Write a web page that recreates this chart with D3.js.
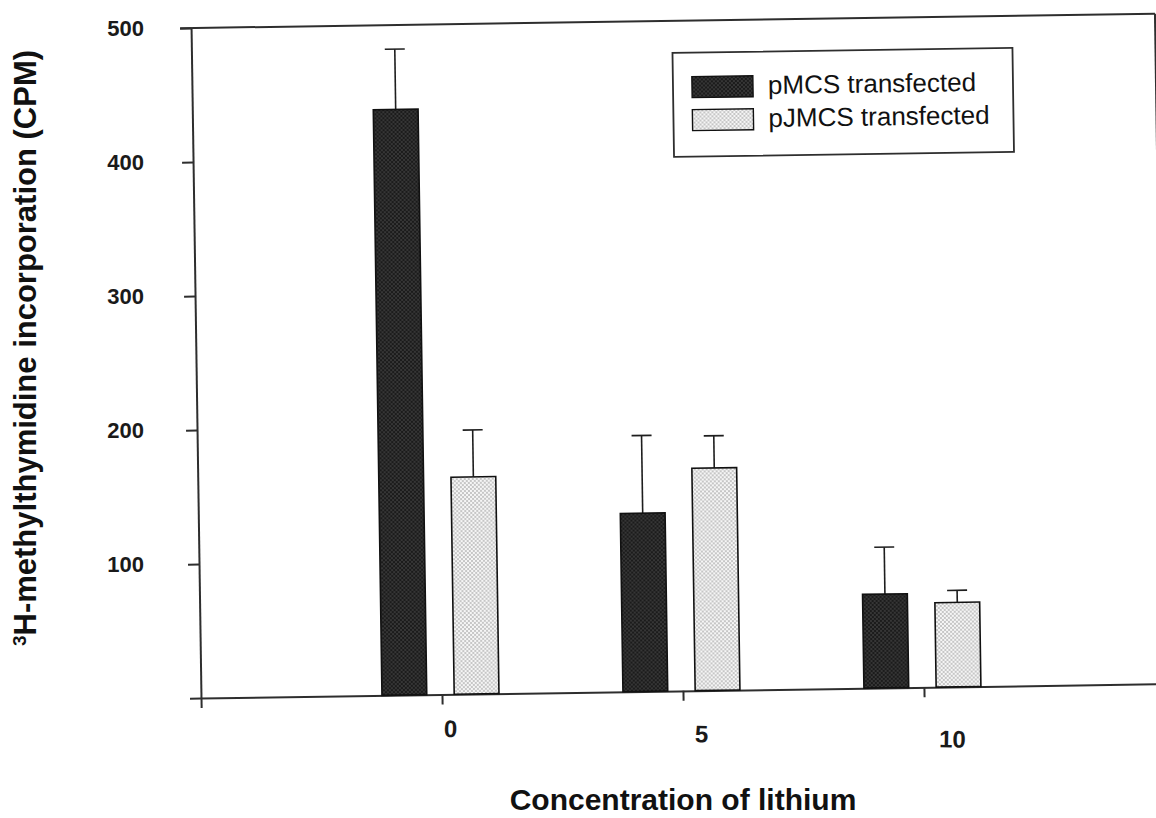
<!DOCTYPE html>
<html>
<head>
<meta charset="utf-8">
<script src="https://cdn.jsdelivr.net/npm/d3@7"></script>
<style>
  html, body { margin: 0; padding: 0; background: #fff; }
  svg { display: block; font-family: "Liberation Sans", Arial, sans-serif; }
</style>
</head>
<body>
<svg id="chart" width="1156" height="818"></svg>
<script>
// Lithium concentrations (x categories) and thymidine uptake per construct
const concentrations = ["0", "5", "10"];
const pmcsValues = [437, 133, 70];
const pmcsErrors = [45, 58, 35];
const pjmcsValues = [162, 166, 63];
const pjmcsErrors = [35, 24, 9];
const seriesNames = ["pMCS transfected", "pJMCS transfected"];
const yTickValues = [0, 100, 200, 300, 400, 500];
const yTickLabels = ["100", "200", "300", "400", "500"];

const svg = d3.select("#chart");
const W = 964, H = 670;
const plotLeft = 201, plotTop = 28;
const tilt = -0.85; // the whole plotted figure sits at a slight tilt

// fill textures for the two series
const defs = svg.append("defs");
const dark = defs.append("pattern").attr("id", "darkDots")
  .attr("patternUnits", "userSpaceOnUse").attr("width", 4).attr("height", 4);
dark.append("rect").attr("width", 4).attr("height", 4).attr("fill", "#1b1b1b");
dark.append("circle").attr("cx", 1).attr("cy", 1).attr("r", 0.75).attr("fill", "#5e5e5e");
dark.append("circle").attr("cx", 3).attr("cy", 3).attr("r", 0.75).attr("fill", "#5e5e5e");
const light = defs.append("pattern").attr("id", "lightDots")
  .attr("patternUnits", "userSpaceOnUse").attr("width", 4).attr("height", 4);
light.append("rect").attr("width", 4).attr("height", 4).attr("fill", "#f6f6f6");
light.append("circle").attr("cx", 1).attr("cy", 1).attr("r", 0.8).attr("fill", "#8a8a8a");
light.append("circle").attr("cx", 3).attr("cy", 3).attr("r", 0.8).attr("fill", "#8a8a8a");
const fills = ["url(#darkDots)", "url(#lightDots)"];

const x = d3.scaleLinear().domain([0, 4]).range([0, W]);
const y = d3.scaleLinear().domain([0, 500]).range([H, 0]);
const sub = d3.scaleBand().domain([0, 1]).range([-60, 57]).paddingInner(0.38);

const plot = svg.append("g")
  .attr("transform", `rotate(${tilt}, ${plotLeft}, ${plotTop + H}) translate(${plotLeft}, ${plotTop})`);

const lineColor = "#2e2e2e";

// frame: top and right borders
plot.append("line").attr("x1", -11).attr("x2", W).attr("y1", y(500)).attr("y2", y(500))
  .attr("stroke", lineColor).attr("stroke-width", 2);
plot.append("line").attr("x1", W).attr("x2", W).attr("y1", y(500)).attr("y2", y(0))
  .attr("stroke", lineColor).attr("stroke-width", 2);

// axes (ticks only; labels drawn separately)
const yAxis = plot.append("g")
  .call(d3.axisLeft(y).tickValues(yTickValues).tickSize(11).tickSizeOuter(0).tickFormat(""));
const xAxis = plot.append("g").attr("transform", `translate(0, ${H})`)
  .call(d3.axisBottom(x).tickValues([0, 1, 2, 3, 4]).tickSize(10).tickSizeOuter(0).tickFormat(""));
[yAxis, xAxis].forEach(a => {
  a.selectAll("path, line").attr("stroke", lineColor).attr("stroke-width", 2);
});

// bars
const rows = concentrations.map((c, i) => ({
  c, pos: i + 1,
  vals: [pmcsValues[i], pjmcsValues[i]],
  errs: [pmcsErrors[i], pjmcsErrors[i]]
}));
const bars = [];
rows.forEach(r => r.vals.forEach((v, s) => bars.push({ pos: r.pos, s, v, e: r.errs[s] })));

// error bars (upper only)
const capW = 20;
const eb = plot.append("g").selectAll("g").data(bars).join("g")
  .attr("stroke", "#1e1e1e").attr("stroke-width", 1.6);
eb.append("line")
  .attr("x1", d => x(d.pos) + sub(d.s) + sub.bandwidth() / 2)
  .attr("x2", d => x(d.pos) + sub(d.s) + sub.bandwidth() / 2)
  .attr("y1", d => y(d.v)).attr("y2", d => y(d.v + d.e));
eb.append("line")
  .attr("x1", d => x(d.pos) + sub(d.s) + sub.bandwidth() / 2 - capW / 2)
  .attr("x2", d => x(d.pos) + sub(d.s) + sub.bandwidth() / 2 + capW / 2)
  .attr("y1", d => y(d.v + d.e)).attr("y2", d => y(d.v + d.e));

plot.append("g").selectAll("rect").data(bars).join("rect")
  .attr("x", d => x(d.pos) + sub(d.s))
  .attr("width", sub.bandwidth())
  .attr("y", d => y(d.v))
  .attr("height", d => y(0) - y(d.v))
  .attr("fill", d => fills[d.s])
  .attr("stroke", "#111").attr("stroke-width", 1.6);

// legend
const lg = plot.append("g").attr("transform", "translate(481, 32)");
lg.append("rect").attr("width", 340).attr("height", 104)
  .attr("fill", "#fff").attr("stroke", lineColor).attr("stroke-width", 1.8);
seriesNames.forEach((name, i) => {
  const row = lg.append("g").attr("transform", `translate(0, ${24 + i * 33})`);
  row.append("rect").attr("x", 19).attr("width", 61).attr("height", 21)
    .attr("fill", fills[i]).attr("stroke", "#111").attr("stroke-width", 1.4);
  row.append("text").attr("x", 95).attr("y", 18.5)
    .attr("font-size", 26).attr("fill", "#111").text(name);
});

// y tick labels
const yLab = d3.scaleLinear().domain([0, 500]).range([plotTop + H, plotTop]);
const yLabAxis = svg.append("g").attr("transform", "translate(144, 0)")
  .call(d3.axisLeft(yLab).tickValues(yTickLabels.map(Number)).tickSize(0).tickPadding(0)
    .tickFormat((d, i) => yTickLabels[i]));
yLabAxis.select(".domain").remove();
yLabAxis.selectAll("text").attr("font-size", 22).attr("font-weight", "bold")
  .attr("fill", "#1a1a1a").attr("font-family", "Liberation Sans, Arial, sans-serif");

// x tick labels
const xLab = d3.scaleLinear().domain([0, 4]).range([199, 1203]);
const xLabAxis = svg.append("g")
  .attr("transform", "rotate(1.2, 450, 733) translate(0, 720)")
  .call(d3.axisBottom(xLab).tickValues([1, 2, 3]).tickSize(0).tickPadding(0)
    .tickFormat((d, i) => concentrations[i]));
xLabAxis.select(".domain").remove();
xLabAxis.selectAll("text").attr("font-size", 24).attr("font-weight", "bold")
  .attr("fill", "#1a1a1a").attr("font-family", "Liberation Sans, Arial, sans-serif");

// axis titles
svg.append("text").attr("x", 683).attr("y", 810).attr("text-anchor", "middle")
  .attr("font-size", 30).attr("font-weight", "bold").attr("fill", "#111")
  .text("Concentration of lithium");

const yt = svg.append("text")
  .attr("transform", "translate(36, 348) rotate(-90)")
  .attr("text-anchor", "middle")
  .attr("font-size", 31).attr("font-weight", "bold").attr("fill", "#111");
yt.append("tspan").attr("font-size", 19).attr("baseline-shift", "super").text("3");
yt.append("tspan").text("H-methylthymidine incorporation (CPM)");
</script>
</body>
</html>
